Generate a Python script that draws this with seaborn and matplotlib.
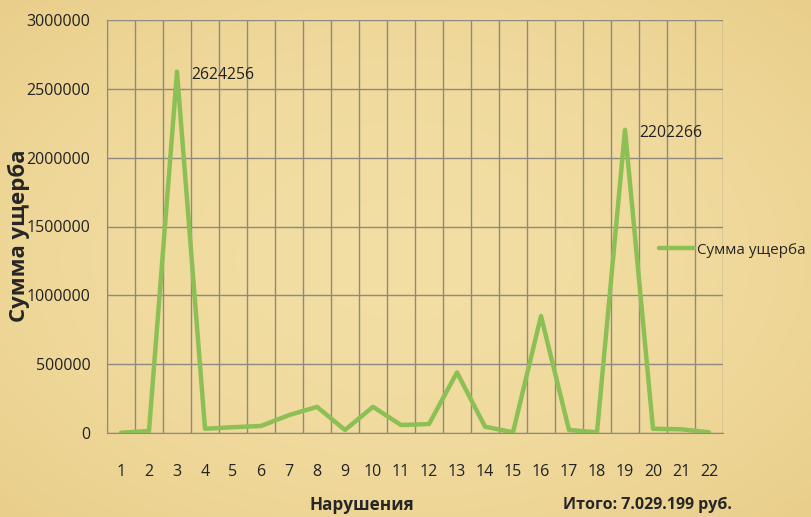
import numpy as np
import pandas as pd
import matplotlib
matplotlib.use('Agg')
import matplotlib.pyplot as plt
import seaborn as sns

# chart data
violations = list(range(1, 23))
damage = [2000, 15000, 2624256, 31000, 42000, 51000, 130000, 190000, 22000,
          190000, 58000, 65000, 440000, 46000, 5000, 850000, 22000, 5000,
          2202266, 31000, 27000, 5000]
labelled = [3, 19]
y_ticks = [0, 500000, 1000000, 1500000, 2000000, 2500000, 3000000]
series_name = 'Сумма ущерба'
x_title = 'Нарушения'
y_title = 'Сумма ущерба'
total_note = 'Итого: 7.029.199 руб.'

df = pd.DataFrame({'Нарушения': violations, series_name: damage})

sns.set_style('white')
plt.rcParams['font.family'] = ['Open Sans', 'DejaVu Sans']

paper = '#EFD9A0'
line_green = '#8CC055'
grid_grey = '#8E8A82'

fig = plt.figure(figsize=(8.11, 5.17), dpi=100, facecolor=paper)

# soft papyrus-like vignette behind everything
bg = fig.add_axes([0, 0, 1, 1], zorder=-10)
yy, xx = np.mgrid[-1:1:200j, -1:1:300j]
shade = np.clip(1 - 0.35 * (xx ** 2 + yy ** 2), 0, 1)
base = np.array([0.95, 0.87, 0.64])
edge = np.array([0.90, 0.78, 0.50])
img = edge + (base - edge) * shade[..., None]
bg.imshow(img, aspect='auto', extent=[0, 1, 0, 1])
bg.axis('off')

ax = fig.add_axes([107 / 811, 1 - 433 / 517, 616 / 811, 413 / 517])
ax.set_facecolor('none')

sns.lineplot(data=df, x='Нарушения', y=series_name, ax=ax, color=line_green,
             linewidth=3.2, label=series_name, legend=False)

ax.set_xlim(0.5, 22.5)
ax.set_ylim(0, 3000000)
ax.set_xticks(violations)
ax.set_xticklabels([str(v) for v in violations])
ax.set_xticks(np.arange(0.5, 23, 1), minor=True)
ax.set_yticks(y_ticks)
ax.set_yticklabels([str(v) for v in y_ticks])
ax.grid(True, which='minor', axis='x', color=grid_grey, linewidth=1)
ax.grid(True, which='major', axis='y', color=grid_grey, linewidth=1)
ax.tick_params(axis='x', which='both', length=0, pad=22, labelsize=11.5, colors='#222222')
ax.tick_params(axis='y', length=0, pad=12, labelsize=11.5, colors='#222222')
for side in ['top', 'right']:
    ax.spines[side].set_visible(False)
for side in ['left', 'bottom']:
    ax.spines[side].set_color(grid_grey)

ax.set_xlabel('')
ax.set_ylabel(y_title, fontsize=16, fontweight='bold')
ax.yaxis.set_label_coords((30 - 107) / 616, (433 - 236) / 413)

for v in labelled:
    val = damage[violations.index(v)]
    ax.annotate(str(val), (v, val), xytext=(10, -2), textcoords='offset points',
                fontsize=11.3, color='#222222', va='center', ha='left')

fig.text(362 / 811, 1 - 505 / 517, x_title, fontsize=12.3, fontweight='bold',
         ha='center', va='center')
fig.text(647 / 811, 1 - 505 / 517, total_note, fontsize=11.5, fontweight='bold',
         ha='center', va='center')

handles, labels = ax.get_legend_handles_labels()
fig.legend(handles, labels, loc='center left', bbox_to_anchor=(645 / 811, 1 - 250 / 517),
           frameon=False, fontsize=11, handlelength=2.3, handletextpad=0.2)

fig.savefig('out.png', dpi=100, facecolor=paper)
